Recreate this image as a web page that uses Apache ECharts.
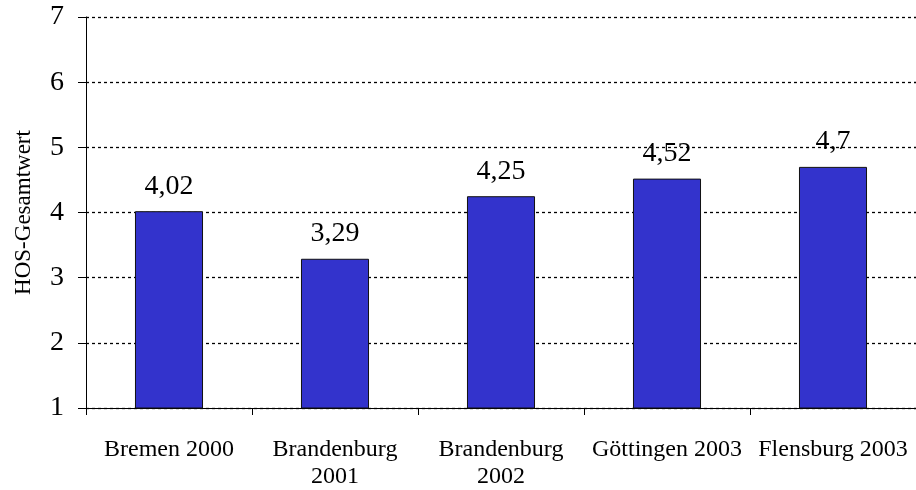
<!DOCTYPE html>
<html><head><meta charset="utf-8">
<script src="https://cdn.jsdelivr.net/npm/echarts@6/dist/echarts.min.js"></script>
<style>html,body{margin:0;padding:0;background:#fff}#c{width:916px;height:490px}</style>
</head><body><div id="c"></div>
<script>
const categories = ["Bremen 2000", "Brandenburg\n2001", "Brandenburg\n2002", "Göttingen 2003", "Flensburg 2003"];
const values = [4.02, 3.29, 4.25, 4.52, 4.7];
const yAxisName = "HOS-Gesamtwert";

const chart = echarts.init(document.getElementById('c'));
chart.setOption({
  animation: false,
  grid: { left: 86, top: 17, width: 834, height: 391 },
  xAxis: {
    type: 'category', data: categories,
    axisLine: { lineStyle: { color: '#000', width: 1 } },
    axisTick: { show: true, alignWithLabel: false, length: 7, lineStyle: { color: '#000' } },
    axisLabel: { color: '#000', fontFamily: 'Liberation Serif', fontSize: 24, lineHeight: 27, margin: 28, interval: 0 }
  },
  yAxis: {
    type: 'value', min: 1, max: 7, interval: 1,
    name: yAxisName, nameLocation: 'middle', nameGap: 51, nameRotate: 90,
    nameTextStyle: { color: '#000', fontFamily: 'Liberation Serif', fontSize: 23 },
    axisLine: { show: true, lineStyle: { color: '#000', width: 1 } },
    axisTick: { show: true, length: 8, lineStyle: { color: '#000' } },
    axisLabel: { color: '#000', fontFamily: 'Liberation Serif', fontSize: 28, margin: 22 },
    splitLine: { show: true, lineStyle: { color: '#000', type: [3, 3], width: 1.3 } }
  },
  series: [{
    type: 'bar', data: values, barWidth: '41%',
    itemStyle: { color: '#3333CC', borderColor: '#111', borderWidth: 1 },
    label: { show: true, position: 'top', distance: 11, color: '#000', fontFamily: 'Liberation Serif', fontSize: 28,
      formatter: p => String(p.value).replace('.', ',') }
  }]
});
</script></body></html>
